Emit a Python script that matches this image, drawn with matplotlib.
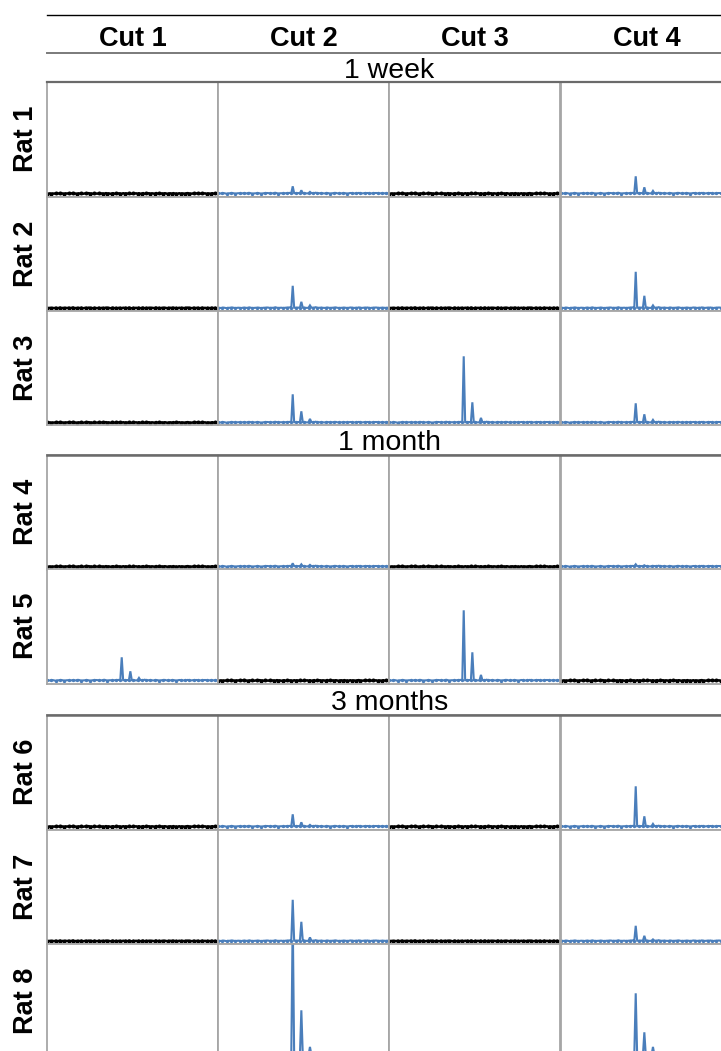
import matplotlib
matplotlib.use("Agg")
import matplotlib.pyplot as plt
from matplotlib.lines import Line2D

plt.rcParams['font.family'] = ['Liberation Sans', 'DejaVu Sans']

# ---------------- data ----------------
cuts = ['Cut 1', 'Cut 2', 'Cut 3', 'Cut 4']
rats = ['Rat 1', 'Rat 2', 'Rat 3', 'Rat 4', 'Rat 5', 'Rat 6', 'Rat 7', 'Rat 8']
groups = ['1 week', '1 month', '3 months']

# trace colour per cell: 'k' = black (no signal), 'b' = blue trace
trace_kind = [
    ['k', 'b', 'k', 'b'],
    ['k', 'b', 'k', 'b'],
    ['k', 'b', 'b', 'b'],
    ['k', 'b', 'k', 'b'],
    ['b', 'k', 'b', 'k'],
    ['k', 'b', 'k', 'b'],
    ['k', 'b', 'k', 'b'],
    ['k', 'b', 'k', 'b'],
]

# spike heights [main, second, third] per cell (signal units above baseline)
spikes = [
    [[0, 0, 0], [7, 3, 1], [0, 0, 0], [17, 6, 2]],
    [[0, 0, 0], [22, 6, 2], [0, 0, 0], [36, 12, 2]],
    [[0, 0, 0], [28, 11, 3], [66, 20, 4], [19, 8, 2]],
    [[0, 0, 0], [3, 2, 1], [0, 0, 0], [2, 1, 0]],
    [[23, 9, 2], [0, 0, 0], [70, 28, 5], [0, 0, 0]],
    [[0, 0, 0], [12, 4, 1], [0, 0, 0], [40, 10, 2]],
    [[0, 0, 0], [41, 19, 3], [0, 0, 0], [15, 5, 1]],
    [[0, 0, 0], [140, 45, 8], [0, 0, 0], [62, 23, 8]],
]
spike_index = [52, 58, 64]
baseline = 3.0

# small baseline fluctuation (120 samples)
noise_blue = [0.3, 0.2, 0.0, 0.3, 0.4, 0.1, -0.2, 0.2, 0.2, 0.4, 0.5, 0.2, 0.0, 0.1, 0.3, 0.2,
              -0.1, 0.2, 0.4, 0.3, 0.1, 0.3, 0.6, 0.2, 0.0, 0.1, 0.2, 0.3, 0.4, 0.2, -0.1, 0.1,
              0.3, 0.2, 0.5, 0.4, 0.1, 0.2, 0.2, 0.3, 0.7, 0.3, 0.0, 0.2, 0.3, 0.1, 0.1, 0.3,
              0.4, 0.5, 0.6, 0.3, 0.2, 0.3, 0.3, 0.4, 0.4, 0.2, 0.2, 0.4, 0.5, 0.2, 0.1, 0.3,
              0.6, 0.4, 0.3, 0.4, 0.8, 0.3, 0.2, 0.3, 0.4, 0.2, 0.1, 0.2, 0.5, 0.3, 0.0, 0.2,
              0.3, 0.4, 0.6, 0.2, 0.1, 0.1, 0.2, 0.3, 0.4, 0.2, 0.0, 0.2, 0.5, 0.4, 0.2, 0.1,
              0.3, 0.2, 0.6, 0.3, 0.1, 0.2, 0.4, 0.3, 0.5, 0.2, 0.0, 0.2, 0.3, 0.4, 0.5, 0.3,
              0.1, 0.2, 0.3, 0.3, 0.2, 0.1, 0.3, 0.2]
noise_black = [0.0, -0.3, 0.2, -0.4, 0.1, -0.2, 0.3, -0.3, 0.0, 0.4, -0.2, 0.1, -0.4, 0.2, -0.1, 0.3,
               -0.3, 0.1, 0.5, -0.2, 0.0, -0.4, 0.2, -0.1, 0.3, -0.3, 0.0, 0.2, -0.2, 0.4, -0.1, 0.1,
               -0.3, 0.2, 0.0, -0.2, 0.3, -0.4, 0.1, 0.0, -0.2, 0.4, -0.1, 0.2, -0.3, 0.0, 0.3, -0.2,
               0.1, -0.4, 0.2, 0.0, -0.3, 0.3, -0.1, 0.2, -0.2, 0.4, 0.0, -0.3, 0.1, -0.1, 0.2, -0.2,
               0.3, -0.2, 0.0, 0.4, -0.3, 0.1, -0.1, 0.3, -0.4, 0.2, 0.0, -0.2, 0.5, -0.1, 0.1, -0.3,
               0.2, -0.2, 0.3, 0.0, -0.4, 0.1, 0.2, -0.2, 0.4, -0.1, 0.0, -0.3, 0.3, -0.2, 0.1, 0.0,
               -0.3, 0.2, 0.4, -0.1, 0.0, -0.2, 0.3, -0.3, 0.1, 0.2, -0.4, 0.0, 0.3, -0.1, 0.2, -0.3,
               0.1, 0.0, -0.2, 0.3, -0.1, 0.2, -0.3, 0.1]

# ---------------- layout (pixels) ----------------
W, H = 721, 1051
fig = plt.figure(figsize=(W / 100, H / 100), dpi=100)

col_left = [47, 218, 389, 561]
col_w = 171
row_top = [82, 196.5, 311, 455, 569, 715, 829.5, 944]
row_h = 114.5

def fx(px):
    return px / W

def fy(py):
    return 1 - py / H

blue = '#4a7ebb'
frame = '#a6a6a6'

for r in range(8):
    for c in range(4):
        ax = fig.add_axes([fx(col_left[c]), fy(row_top[r] + row_h), col_w / W, row_h / H])
        kind = trace_kind[r][c]
        noise = noise_blue if kind == 'b' else noise_black
        y = [baseline + n for n in noise]
        for i, h in zip(spike_index, spikes[r][c]):
            y[i] += h
        x = list(range(len(y)))
        if kind == 'b':
            ax.plot(x, y, color=blue, lw=1.5, marker='o', ms=1.4, markevery=3,
                    solid_joinstyle='miter')
        else:
            ax.plot(x, y, color='black', lw=1.8, marker='o', ms=1.9, markevery=3)
        ax.set_xlim(0, len(y) - 1)
        ax.set_ylim(0, row_h)
        ax.set_xticks([])
        ax.set_yticks([])
        for s in ax.spines.values():
            s.set_color(frame)
            s.set_linewidth(1.3)
        ax.set_facecolor('white')

# horizontal rules
def hline(py, color, lw):
    fig.add_artist(Line2D([fx(47), 1.0], [fy(py), fy(py)], color=color, lw=lw,
                          transform=fig.transFigure, zorder=10))

hline(14.5, 'black', 1.0)
hline(52.5, '#7a7a7a', 1.4)
hline(82, '#6a6a6a', 1.6)
hline(455, '#6a6a6a', 1.8)
hline(715, '#6a6a6a', 1.8)

# column headers
for c, name in enumerate(cuts):
    fig.text(fx(col_left[c] + col_w / 2), fy(45.5), name, ha='center', va='baseline',
             fontsize=19.5, fontweight='bold')

# group labels
group_baseline = [78, 450, 710]
for g, name in enumerate(groups):
    fig.text(fx(389.5), fy(group_baseline[g]), name, ha='center', va='baseline', fontsize=20.5)

# row labels
for r, name in enumerate(rats):
    fig.text(fx(26), fy(row_top[r] + row_h / 2), name, ha='center', va='center',
             rotation=90, fontsize=19.5, fontweight='bold')

fig.savefig('out.png', dpi=100, facecolor='white')
